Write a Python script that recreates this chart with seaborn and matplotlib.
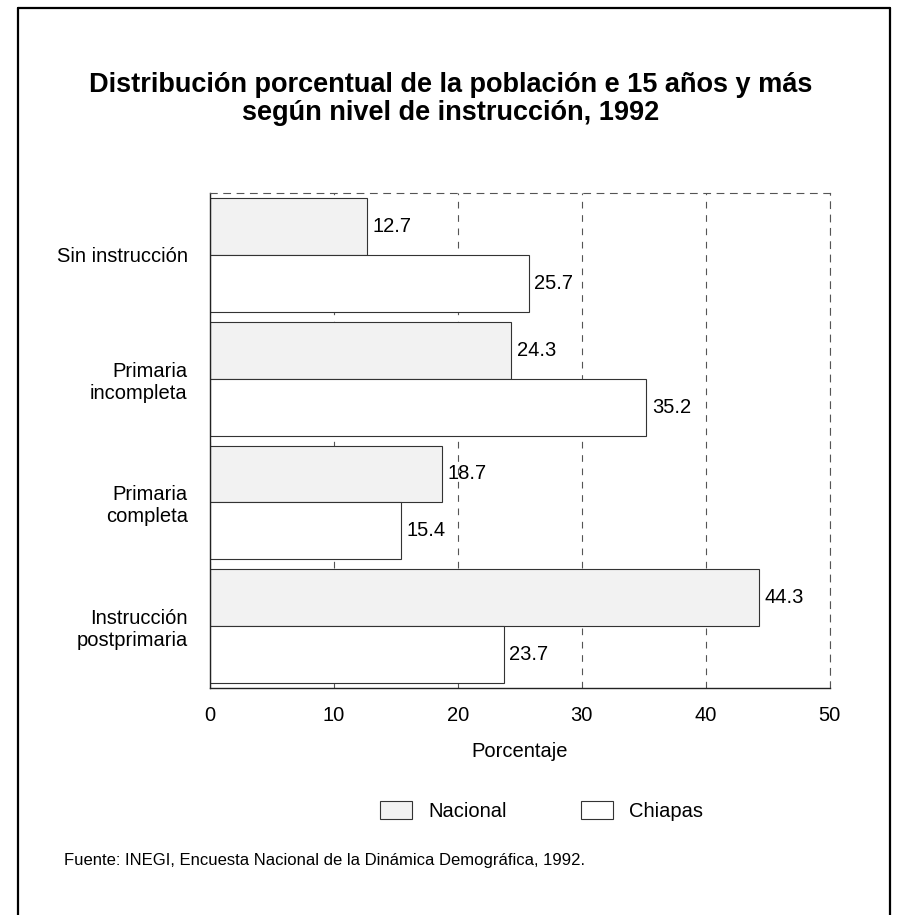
import pandas as pd
import matplotlib.pyplot as plt
import seaborn as sns
from matplotlib.lines import Line2D

NIVELES = ["Sin instrucción", "Primaria\nincompleta", "Primaria\ncompleta", "Instrucción\npostprimaria"]
NACIONAL = [12.7, 24.3, 18.7, 44.3]
CHIAPAS = [25.7, 35.2, 15.4, 23.7]
SERIES = ["Nacional", "Chiapas"]
X_TICKS = [0, 10, 20, 30, 40, 50]

COLORS = {"Nacional": "#f2f2f2", "Chiapas": "#ffffff"}
FS = 14.5

df = pd.DataFrame({
    "Nivel": NIVELES * 2,
    "Porcentaje": NACIONAL + CHIAPAS,
    "Ambito": [SERIES[0]] * len(NIVELES) + [SERIES[1]] * len(NIVELES),
})

sns.set_style("white")
plt.rcParams["font.family"] = ["Liberation Sans", "DejaVu Sans"]
plt.rcParams["text.color"] = "black"
plt.rcParams["axes.labelcolor"] = "black"
plt.rcParams["xtick.color"] = "black"
plt.rcParams["ytick.color"] = "black"

fig = plt.figure(figsize=(9.01, 9.15), dpi=100)
ax = fig.add_axes([0.233, 0.248, 0.688, 0.541])

sns.barplot(
    data=df,
    x="Porcentaje",
    y="Nivel",
    hue="Ambito",
    orient="h",
    palette=COLORS,
    width=0.92,
    edgecolor="#333333",
    linewidth=0.8,
    legend=False,
    ax=ax,
)

for container in ax.containers:
    ax.bar_label(container, fmt="%.1f", padding=4, fontsize=FS)

ax.set_xlim(0, 50)
ax.set_xticks(X_TICKS)
ax.tick_params(axis="x", labelsize=FS, length=4, pad=9)
ax.tick_params(axis="y", labelsize=FS, length=0, pad=16)
for lbl in ax.get_yticklabels():
    lbl.set_multialignment("right")
ax.set_ylabel("")
ax.set_xlabel("Porcentaje", fontsize=FS, labelpad=12)
ax.xaxis.grid(True, linestyle=(0, (6, 6)), color="#555555", linewidth=0.8)
ax.set_axisbelow(True)
for side in ["left", "bottom"]:
    ax.spines[side].set_color("#222222")
    ax.spines[side].set_linewidth(1.0)
for side in ["top", "right"]:
    ax.spines[side].set_color("#555555")
    ax.spines[side].set_linestyle((0, (6, 6)))
    ax.spines[side].set_linewidth(0.8)

handles = [
    plt.Rectangle((0, 0), 1, 1, facecolor=COLORS[s], edgecolor="#333333", linewidth=0.8)
    for s in SERIES
]
fig.legend(
    handles, SERIES,
    loc="center", bbox_to_anchor=(0.601, 0.114),
    ncol=2, frameon=False, fontsize=FS,
    handlelength=1.6, handleheight=1.0, handletextpad=0.8, columnspacing=3.7,
)

fig.text(0.5, 0.907, "Distribución porcentual de la población e 15 años y más",
         ha="center", va="center", fontsize=19.5, fontweight="bold")
fig.text(0.5, 0.876, "según nivel de instrucción, 1992",
         ha="center", va="center", fontsize=19.5, fontweight="bold")
fig.text(0.071, 0.060, "Fuente: INEGI, Encuesta Nacional de la Dinámica Demográfica, 1992.",
         ha="left", va="center", fontsize=12)

# marco exterior (izquierda, arriba, derecha)
frame_kw = dict(color="black", linewidth=1.6, transform=fig.transFigure)
fig.add_artist(Line2D([0.020, 0.020], [0.0, 0.991], **frame_kw))
fig.add_artist(Line2D([0.020, 0.988], [0.991, 0.991], **frame_kw))
fig.add_artist(Line2D([0.988, 0.988], [0.0, 0.991], **frame_kw))

fig.savefig("out.png", dpi=100)
plt.close(fig)
